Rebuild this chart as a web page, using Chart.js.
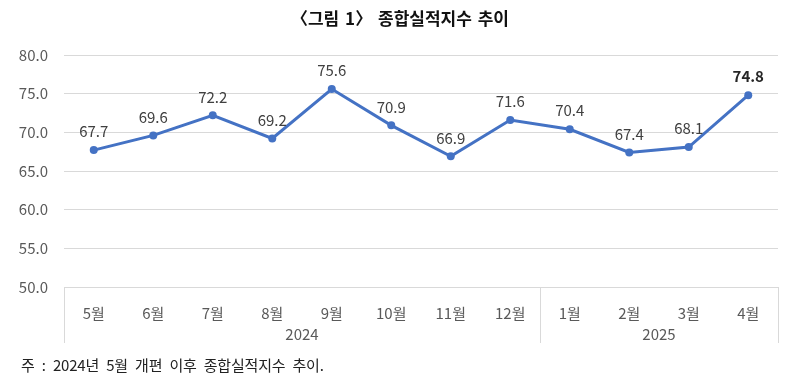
<!DOCTYPE html>
<html><head><meta charset="utf-8">
<script src="https://cdn.jsdelivr.net/npm/chart.js@4"></script>
<style>
html,body{margin:0;padding:0;background:#fff;}
#wrap{position:relative;width:800px;height:380px;}
#title{position:absolute;left:0;top:5px;width:800px;text-align:center;font:bold 17px "Noto Sans CJK KR",sans-serif;color:#111;word-spacing:2px;}
#note{position:absolute;left:21px;top:354px;font:15px "Noto Sans CJK KR",sans-serif;color:#222;letter-spacing:-0.2px;word-spacing:4px;}
canvas{position:absolute;left:0;top:0;}
</style></head>
<body><div id="wrap">
<canvas id="c" width="800" height="380"></canvas>
<div id="title">〈그림 1〉 종합실적지수 추이</div>
<div id="note">주 : 2024년 5월 개편 이후 종합실적지수 추이.</div>
</div>
<script>
const months = ["5월","6월","7월","8월","9월","10월","11월","12월","1월","2월","3월","4월"];
const years = ["2024","2025"];
const yearSpans = [8, 4];
const values = [67.7, 69.6, 72.2, 69.2, 75.6, 70.9, 66.9, 71.6, 70.4, 67.4, 68.1, 74.8];
const yTicks = [50, 55, 60, 65, 70, 75, 80];

const FONT = '"Liberation Sans Narrow","Noto Sans CJK KR",sans-serif';

const labelPlugin = {
  id: 'labels',
  afterDatasetsDraw(chart) {
    const ctx = chart.ctx;
    const meta = chart.getDatasetMeta(0);
    ctx.save();
    ctx.textAlign = 'center';
    ctx.textBaseline = 'bottom';
    meta.data.forEach((pt, i) => {
      const last = i === values.length - 1;
      ctx.font = (last ? 'bold ' : '') + '15px ' + FONT;
      ctx.fillStyle = last ? '#262626' : '#404040';
      ctx.fillText(values[i].toFixed(1), pt.x, pt.y - 11);
    });
    ctx.restore();
  }
};

const boxPlugin = {
  id: 'box',
  afterDraw(chart) {
    const ctx = chart.ctx;
    const x = chart.scales.x;
    const top = chart.chartArea.bottom;
    const bottom = top + 56;
    const half = (x.getPixelForValue(1) - x.getPixelForValue(0)) / 2;
    ctx.save();
    ctx.strokeStyle = '#d9d9d9';
    ctx.lineWidth = 1;
    let idx = 0;
    const bounds = [x.getPixelForValue(0) - half];
    yearSpans.forEach(s => { idx += s; bounds.push(x.getPixelForValue(idx - 1) + half); });
    bounds.forEach(b => {
      const bx = Math.round(b) + 0.5;
      ctx.beginPath(); ctx.moveTo(bx, top); ctx.lineTo(bx, bottom); ctx.stroke();
    });
    ctx.fillStyle = '#595959';
    ctx.font = '15px ' + FONT;
    ctx.textAlign = 'center';
    ctx.textBaseline = 'middle';
    years.forEach((y, i) => {
      ctx.fillText(y, (bounds[i] + bounds[i + 1]) / 2, top + 47);
    });
    ctx.restore();
  }
};

new Chart(document.getElementById('c'), {
  type: 'line',
  data: {
    labels: months,
    datasets: [{
      data: values,
      borderColor: '#4472C4',
      backgroundColor: '#4472C4',
      borderWidth: 3,
      pointRadius: 4,
      pointBackgroundColor: '#4472C4',
      pointBorderWidth: 0,
      tension: 0
    }]
  },
  options: {
    responsive: false,
    animation: false,
    devicePixelRatio: 1,
    layout: { padding: { left: 0, right: 22, top: 55, bottom: 37 } },
    plugins: { legend: { display: false }, tooltip: { enabled: false }, title: { display: false } },
    scales: {
      x: {
        offset: true,
        grid: { display: false },
        border: { display: false },
        ticks: { color: '#595959', font: { family: FONT, size: 15 }, padding: 9, maxRotation: 0 },
        afterFit(s) { s.height = 56; }
      },
      y: {
        min: 50, max: 80,
        afterBuildTicks(s) { s.ticks = yTicks.map(v => ({ value: v })); },
        grid: { color: '#d9d9d9', drawTicks: false },
        border: { display: false },
        ticks: { color: '#595959', font: { family: FONT, size: 15 }, padding: 16, callback: v => v.toFixed(1) },
        afterFit(s) { s.width = 64; }
      }
    }
  },
  plugins: [labelPlugin, boxPlugin]
});
</script>
</body></html>
